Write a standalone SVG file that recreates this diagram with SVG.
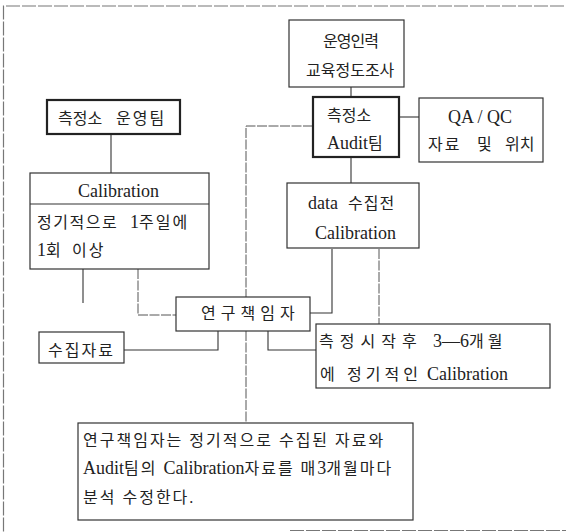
<svg xmlns="http://www.w3.org/2000/svg" width="567" height="532" viewBox="0 0 567 532">
<style>
.box{fill:#fff;stroke:#333;stroke-width:1.2}
.thick{fill:#fff;stroke:#222;stroke-width:2.2}
.c{fill:none;stroke:#333;stroke-width:1.1}
.d{fill:none;stroke:#555;stroke-width:1;stroke-dasharray:10 1.5}
text{font-family:"Liberation Serif","Noto Sans CJK KR",serif;font-size:16px;fill:#222}
.l{font-size:18px;letter-spacing:0}
</style>
<rect width="567" height="532" fill="#fff"/>
<path d="M564,6 H3.5 V532" fill="none" stroke="#777" stroke-width="1.2" stroke-dasharray="14 2"/>
<path d="M290,530.5 H566" fill="none" stroke="#777" stroke-width="1.2" stroke-dasharray="14 2"/>
<g id="connectors">
<path class="c" d="M351,87 V97"/>
<path class="c" d="M399,117 H419"/>
<path class="c" d="M351,157 V183"/>
<path class="d" d="M313,126 H246 V297"/>
<path class="d" d="M246,331 V423"/>
<path class="c" d="M111,134 V173"/>
<path class="c" d="M83,269 V303"/>
<path class="d" d="M138,269 V315 H176"/>
<path class="c" d="M332,249 V313 H310"/>
<path class="d" d="M379,249 V324"/>
<path class="c" d="M218,331 V350 H124"/>
<path class="c" d="M268,331 V350 H316"/>
</g>
<g id="n-education">
<rect class="box" x="289" y="20" width="115" height="67"/>
<text x="323" y="47" letter-spacing="-1">운영인력</text>
<text x="306" y="76">교육정도조사</text>
</g>
<g id="n-audit">
<rect class="thick" x="313" y="97" width="86" height="60"/>
<text x="327" y="121">측정소</text>
<text x="327" y="149"><tspan class="l">Audit</tspan>팀</text>
</g>
<g id="n-qaqc">
<rect class="box" x="419" y="98" width="124" height="64"/>
<text class="l" x="448" y="123">QA / QC</text>
<text y="150"><tspan x="428" letter-spacing="2">자료</tspan><tspan x="477">및</tspan><tspan x="505">위치</tspan></text>
</g>
<g id="n-opteam">
<rect class="thick" x="47" y="100" width="133" height="34"/>
<text y="124"><tspan x="58">측정소</tspan><tspan x="116" letter-spacing="2">운영팀</tspan></text>
</g>
<g id="n-calibration">
<rect class="box" x="30" y="173" width="179" height="96"/>
<path class="c" d="M30,204 H209"/>
<text class="l" x="78" y="197">Calibration</text>
<text y="228"><tspan x="37" letter-spacing="1.5">정기적으로</tspan><tspan x="130" class="l">1</tspan><tspan letter-spacing="2">주일에</tspan></text>
<text y="256"><tspan x="37" class="l">1</tspan><tspan>회</tspan><tspan x="72" letter-spacing="2">이상</tspan></text>
</g>
<g id="n-datacal">
<rect class="box" x="287" y="183" width="132" height="65"/>
<text y="209"><tspan x="308" class="l">data</tspan><tspan x="348" letter-spacing="1">수집전</tspan></text>
<text class="l" x="315" y="239">Calibration</text>
</g>
<g id="n-pi">
<rect class="box" x="176" y="297" width="134" height="34"/>
<text x="201" y="319" letter-spacing="5">연구책임자</text>
</g>
<g id="n-collected">
<rect class="box" x="39" y="332" width="85" height="31"/>
<text x="48" y="356" letter-spacing="2">수집자료</text>
</g>
<g id="n-periodic">
<rect class="box" x="316" y="324" width="234" height="64"/>
<text y="347"><tspan x="319" letter-spacing="6">측정시작후</tspan><tspan x="433" class="l">3—6</tspan><tspan letter-spacing="4">개월</tspan></text>
<text y="380"><tspan x="320">에</tspan><tspan x="347" letter-spacing="4">정기적인</tspan><tspan x="427" class="l">Calibration</tspan></text>
</g>
<g id="n-summary">
<rect class="box" x="78" y="423" width="335" height="97"/>
<text x="83" y="446" letter-spacing="2">연구책임자는 정기적으로 수집된 자료와</text>
<text x="83" y="474" letter-spacing="2"><tspan class="l">Audit</tspan>팀의 <tspan class="l">Calibration</tspan>자료를 매<tspan class="l">3</tspan>개월마다</text>
<text x="83" y="503" letter-spacing="2">분석 수정한다.</text>
</g>
</svg>
